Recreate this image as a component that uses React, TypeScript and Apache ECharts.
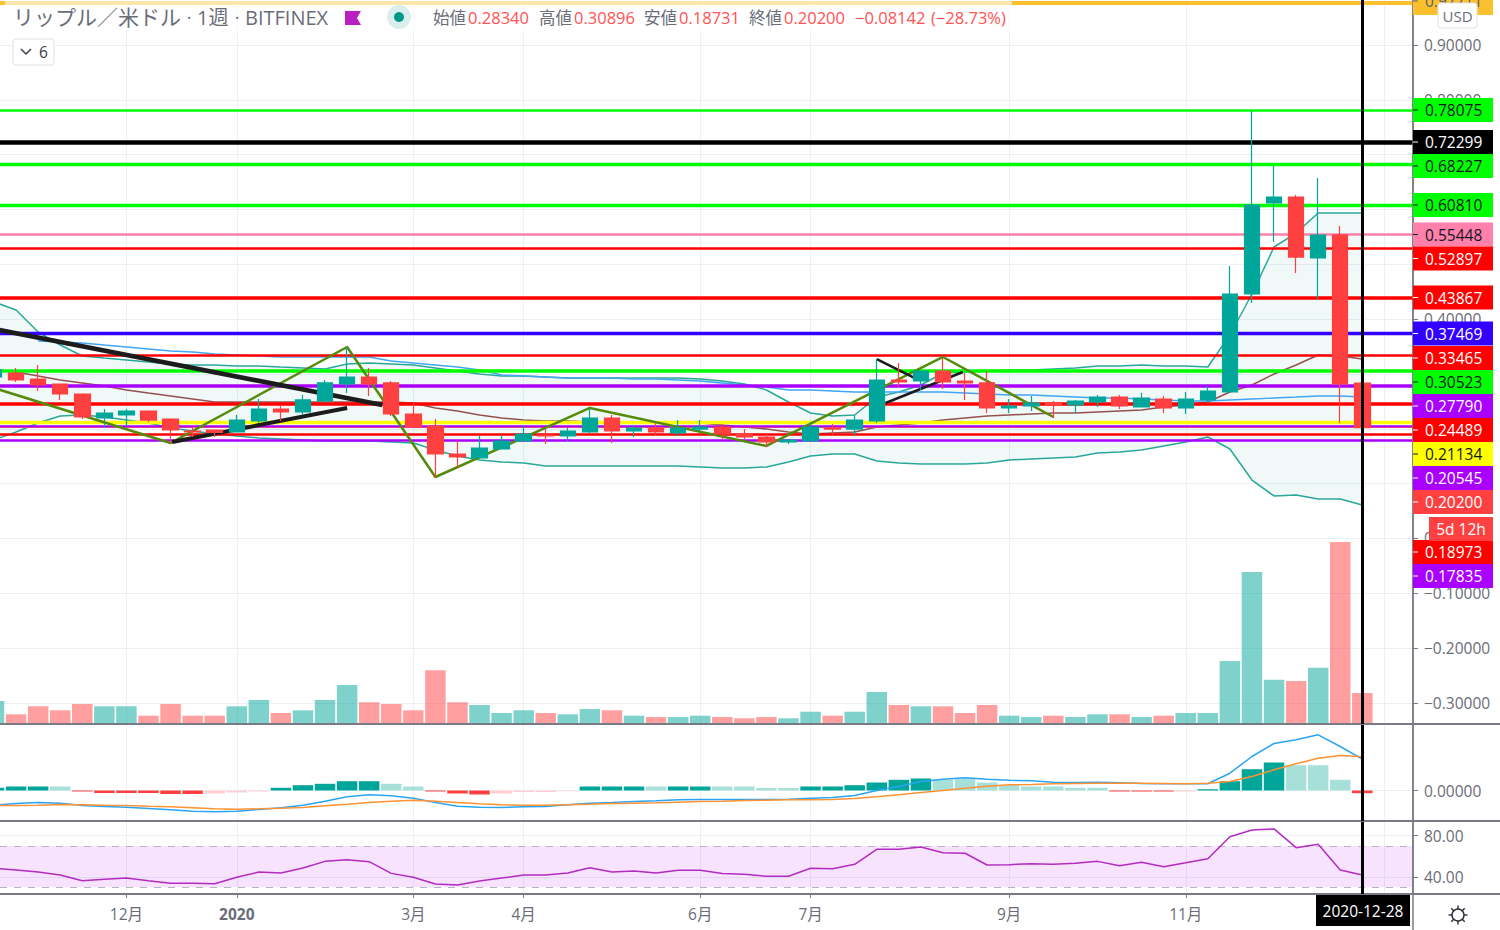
import React, { useEffect, useRef } from "react";
import * as echarts from "echarts";

const FONT = '"Open Sans", "Noto Sans CJK JP", sans-serif';

// Weekly candles, 2019-10-28 .. 2020-12-28 (index = week number)
const opens = [.2945,.3018,.2908,.2817,.2635,.2197,.2252,.2325,.2179,.1960,.1978,.1942,.2142,.2361,.2307,.2507,.2817,.2945,.2836,.2270,.2051,.1541,.1468,.1632,.1778,.1887,.1869,.1942,.2197,.1960,.2015,.1924,.1996,.2033,.1905,.1851,.1760,.1778,.2015,.1996,.2142,.2890,.2872,.3054,.2872,.2836,.2380,.2416,.2471,.2434,.2489,.2580,.2398,.2544,.2380,.2526,.2672,.4459,.6118,.6228,.5115,.5535,.2834];
const closes = [.3073,.2890,.2799,.2635,.2215,.2288,.2325,.2160,.1978,.1942,.1933,.2160,.2361,.2307,.2526,.2836,.2945,.2817,.2270,.2033,.1541,.1486,.1650,.1778,.1905,.1869,.1960,.2197,.1960,.2015,.1942,.2015,.2033,.1905,.1851,.1760,.1796,.2033,.1996,.2160,.2890,.2854,.3054,.2854,.2836,.2380,.2416,.2471,.2434,.2507,.2580,.2416,.2562,.2380,.2544,.2690,.4459,.6082,.6228,.5133,.5535,.2817,.2020];
const lows = [.2890,.2854,.2690,.2526,.2179,.2015,.2051,.2124,.1741,.1851,.1851,.1942,.2106,.2142,.2252,.2471,.2653,.2599,.2233,.2033,.1121,.1285,.1468,.1632,.1778,.1723,.1778,.1924,.1741,.1851,.1869,.1869,.1942,.1814,.1814,.1668,.1723,.1760,.1887,.1887,.2106,.2763,.2708,.2726,.2526,.2288,.2288,.2325,.2197,.2288,.2398,.2361,.2398,.2288,.2270,.2471,.2672,.4295,.5407,.4842,.4368,.2106,.18731];
const highs = [.3146,.3109,.3164,.2817,.2635,.2361,.2361,.2325,.2179,.2033,.1978,.2252,.2544,.2416,.2617,.2890,.3492,.3109,.2872,.2471,.2179,.1778,.1869,.1887,.2051,.1996,.2015,.2380,.2252,.2069,.2106,.2160,.2160,.2087,.1996,.1905,.1814,.2124,.2087,.2252,.3273,.3200,.3054,.3292,.3018,.3054,.2544,.2599,.2507,.2526,.2617,.2617,.2653,.2599,.2672,.2781,.4970,.7796,.6793,.6264,.6574,.5699,.30896];

const volumes = [23,9.7,17.7,13.7,20,17.7,17.7,8.3,20,8.3,8.3,17.7,24,11,13.7,24,39,21.7,20,13.7,53.7,21.7,19,11,13.7,11,9.7,15,13.7,8.3,7,7,8.3,7,5.7,7,5.7,12.3,8.3,12.3,32,19,17.7,17.7,11,19,8.3,7,8.3,7,9.7,9.7,7,8.3,11,11,63,152,44.3,43,56.3,182,31];

const bbUpper = [.4313,.4167,.3766,.3528,.3328,.3291,.3255,.3218,.3182,.3164,.3164,.3146,.3146,.3127,.3109,.3091,.3182,.3200,.3182,.3164,.3109,.3054,.3000,.2963,.2963,.2945,.2927,.2927,.2927,.2927,.2927,.2927,.2908,.2872,.2817,.2708,.2489,.2288,.2233,.2252,.2580,.2672,.2799,.3018,.3036,.3054,.3073,.3073,.3091,.3109,.3146,.3146,.3164,.3146,.3146,.3127,.3711,.4459,.5316,.5571,.5936,.5936,.5936];
const bbLower = [.1796,.1942,.2106,.2233,.2252,.2215,.2160,.2106,.2015,.1960,.1905,.1869,.1832,.1814,.1796,.1778,.1778,.1778,.1760,.1741,.1614,.1504,.1431,.1395,.1377,.1322,.1322,.1322,.1322,.1322,.1322,.1322,.1304,.1285,.1285,.1304,.1395,.1504,.1541,.1541,.1413,.1377,.1358,.1358,.1358,.1377,.1431,.1450,.1468,.1486,.1559,.1577,.1614,.1687,.1760,.1851,.1632,.1066,.0775,.0793,.0720,.0720,.0610];
const bbBasis = [.3073,.3036,.2963,.2890,.2836,.2781,.2708,.2653,.2599,.2544,.2489,.2489,.2489,.2489,.2489,.2489,.2489,.2489,.2489,.2471,.2380,.2325,.2252,.2197,.2160,.2142,.2142,.2124,.2124,.2106,.2106,.2106,.2106,.2069,.2033,.1996,.1942,.1905,.1924,.1942,.2033,.2069,.2106,.2160,.2197,.2233,.2252,.2270,.2288,.2288,.2307,.2325,.2343,.2398,.2434,.2489,.2672,.2799,.3000,.3164,.3346,.3328,.3273];
const blueAverage = [null,null,.3601,.3583,.3565,.3528,.3492,.3455,.3419,.3401,.3364,.3346,.3328,.3310,.3310,.3310,.3310,.3310,.3237,.3200,.3164,.3127,.3073,.2981,.2963,.2945,.2927,.2927,.2927,.2908,.2908,.2890,.2872,.2836,.2799,.2763,.2708,.2708,.2690,.2672,.2672,.2672,.2672,.2672,.2653,.2635,.2617,.2617,.2599,.2580,.2562,.2562,.2544,.2526,.2507,.2507,.2526,.2544,.2562,.2580,.2599,.2599,.2580];

const macdLine = [-14.7,-13,-12,-12.7,-15,-16,-16.7,-18,-19.3,-20.7,-21.3,-20.7,-19,-17.3,-14.7,-10.7,-6.3,-4.3,-5.3,-7.7,-12,-15.7,-16.7,-17,-16.3,-16,-14.3,-12.7,-12,-11,-10.3,-9.3,-9,-9,-9,-9,-8.7,-7.7,-7,-5,0,4,9,11.3,12.7,11.3,10.3,9.7,8.3,8,8.3,7.7,7,6.7,6.7,6.7,17.3,34,47,50.7,55.7,44,31.3];
const macdSignal = [-15,-15,-14.7,-14,-14.3,-14.7,-15,-15.7,-16.3,-17.3,-18.3,-18.7,-18.3,-17.7,-17,-15.3,-13.7,-12,-10.7,-9.7,-10.7,-12,-13.3,-14.3,-14.7,-14.7,-14.3,-13.7,-13,-12.7,-12.3,-11.7,-11,-10.7,-10,-9.7,-9.3,-9.3,-9,-8,-6.3,-4.3,-2,0,2.3,4.3,5.7,6,6.7,7,7.3,7.3,7.3,7,6.7,7.3,9,14,20.7,26.7,32.3,35,33.7];
const macdHist = [2.7,4,4,4,-1,-2.5,-2.5,-2.5,-3.5,-3.5,-3,-2,-1,2.7,5.3,6.7,9.3,9.3,6.7,4,-1,-3,-4,-3,-1.5,-1.5,-.7,4,4,4,4,4,4,4,4,2.5,2.5,4,4,5.3,8,10.7,12,10.7,12,8,5.3,4,4,2.7,2.7,-1,-1,-1,-1,1.3,9.3,21.3,28,25.3,25.3,10.7,-2.7];
const macdFaded = [3,10,11,12,18,19,23,24,25,26,30,33,34,35,36,43,44,45,46,47,48,49,50,54,59,60,61];

const rsi = [48.4,46.8,44.8,41.9,36.4,37.8,39,36.4,33.9,33.9,33.5,39.7,44.8,43.9,48.7,55.1,56.7,54.8,43.5,39.7,33.2,32.3,36.1,39,41.9,41.9,43.9,49,44.8,45.8,43.9,46.5,46.5,43.5,42.6,40.7,40.7,48.4,48,52.3,66.7,66.7,69,63.5,62.9,51.6,51.9,52.9,52.3,53.2,55.1,50.9,54.2,50,53.8,57.7,78.9,85.4,86.4,68.3,71.6,46.8,41.9];

const zigzagWeeks = [0,8,16,20,27,35,43,48];
const zigzagPrices = [.2744,.1741,.3492,.1121,.2380,.1687,.3310,.2215];

const trendLines = [
  { from: [0, .3820], to: [17.6, .2434], width: 4.7 },
  { from: [8.07, .1760], to: [16, .2380], width: 4 },
  { from: [40, .3273], to: [41.7, .2927], width: 2.5 },
  { from: [40.4, .2471], to: [43.9, .3036], width: 2.5 },
];

const levels = [0.97711,0.78075,0.72299,0.68227,0.60810,0.55448,0.52897,0.43867,0.37469,0.33465,0.30523,0.27790,0.24489,0.21134,0.20545,0.20200,0.18973,0.17835];
const levelColors = ["#fbc02d","#00ff00","#000000","#00ff00","#00ff00","#ff80ab","#ff0000","#ff0000","#3300ff","#ff0000","#00ff00","#aa00ff","#ff0000","#ffff00","#aa00ff","#ff4040","#ff0000","#aa00ff"];
const levelWidths = [4,2.5,4.6,3.3,3.3,2.5,2.5,3.6,3.3,2.5,3.6,3.6,3.6,3.3,2.5,1,2.5,2.5];
const levelInk = ["#5d606b","#131722","#ffffff","#131722","#131722","#131722","#ffffff","#ffffff","#ffffff","#ffffff","#131722","#ffffff","#ffffff","#131722","#ffffff","#ffffff","#ffffff","#ffffff"];
const tagCentres = [1,110,142,166,205,234.5,258.5,297.5,333.5,358,382,406,430,454,478,502,552,576];

const priceTicks = [-.3,-.2,-.1,0,.1,.2,.3,.4,.5,.6,.7,.8,.9];
const visiblePriceLabels = [-.3,-.2,-.1,0,.4,.8,.9];
const monthWeeks = [6,11,19,24,32,37,46,54,63];
const monthLabels = ["12月","2020","3月","4月","6月","7月","9月","11月",""];

const quoteParts = [
  { text: "始値", x: 433, red: false }, { text: "0.28340", x: 468, red: true },
  { text: "高値", x: 539, red: false }, { text: "0.30896", x: 574, red: true },
  { text: "安値", x: 644, red: false }, { text: "0.18731", x: 679, red: true },
  { text: "終値", x: 749, red: false }, { text: "0.20200", x: 784, red: true },
  { text: "−0.08142", x: 855, red: true }, { text: "(−28.73%)", x: 931, red: true },
];

const UP = "#00a69a";
const DOWN = "#ff4040";
const GRID = "#e9f1f6";
const INK = "#6a6d78";
const X_MIN = 0.2719;
const X_MAX = 64.297;

const indexed = (values: (number | null)[]) =>
  values.map((v, i) => [i, v]).filter((p) => p[1] !== null);

function xAxis(gridIndex: number) {
  return {
    type: "value", gridIndex, min: X_MIN, max: X_MAX,
    axisLine: { show: false },
    axisTick: { show: false, customValues: monthWeeks },
    axisLabel: { show: false, customValues: monthWeeks },
    splitLine: { show: true, lineStyle: { color: GRID, width: 1 } },
  };
}

function yAxis(gridIndex: number, min: number, max: number, ticks: number[], labels: number[], digits: number) {
  return {
    type: "value", gridIndex, min, max, position: "right",
    axisLine: { show: true, onZero: false, lineStyle: { color: "#787b86", width: 1.5 } },
    axisTick: { show: true, length: 5, lineStyle: { color: "#787b86" }, customValues: ticks },
    axisLabel: {
      show: true, customValues: labels, margin: 11, color: INK, fontSize: 15.5, fontFamily: FONT,
      formatter: (v: number) => (v < 0 ? "−" : "") + Math.abs(v).toFixed(digits),
    },
    splitLine: { show: true, lineStyle: { color: GRID, width: 1 } },
  };
}

function buildGraphics() {
  const g: any[] = [];
  const text = (t: string, x: number, y: number, fill: string, size: number, z = 20, align = "left") => ({
    type: "text", x, y, z, silent: true,
    style: { text: t, fill, font: `${size}px ${FONT}`, textAlign: align, textVerticalAlign: "middle" },
  });
  const hLine = (x1: number, x2: number, y: number, z = 8) => ({
    type: "line", z, silent: true, shape: { x1, y1: y, x2, y2: y }, style: { stroke: "#787b86", lineWidth: 2 },
  });
  // pane separators
  g.push(hLine(0, 1500, 724), hLine(0, 1500, 821), hLine(0, 1500, 894));
  g.push({ type: "line", z: 8, silent: true, shape: { x1: 1413, y1: 0, x2: 1413, y2: 930 }, style: { stroke: "#787b86", lineWidth: 1.5 } });
  // header veil
  g.push({ type: "rect", z: 15, silent: true, shape: { x: 5, y: 0, width: 1007, height: 33 }, style: { fill: "rgba(255,255,255,0.6)" } });
  g.push(text("リップル／米ドル", 13, 17, INK, 21));
  g.push(text("·", 189, 17, INK, 18, 20, "center"));
  g.push(text("1週", 197, 17, INK, 20));
  g.push(text("·", 237, 17, INK, 18, 20, "center"));
  g.push(text("BITFINEX", 245, 17, INK, 20));
  g.push({ type: "polygon", z: 20, silent: true, shape: { points: [[345, 11], [361, 11], [357, 18], [361, 25], [345, 25]] }, style: { fill: "#ba1fc4" } });
  g.push({ type: "circle", z: 20, silent: true, shape: { cx: 399, cy: 17, r: 12 }, style: { fill: "rgba(0,150,136,0.15)" } });
  g.push({ type: "circle", z: 21, silent: true, shape: { cx: 399, cy: 17, r: 5 }, style: { fill: "#009688" } });
  quoteParts.forEach((q) => g.push(text(q.text, q.x, 17, q.red ? "#ff5252" : INK, 16.5)));
  // collapse button
  g.push({ type: "rect", z: 20, silent: true, shape: { x: 13, y: 39, width: 41, height: 26, r: 3 }, style: { fill: "#fff", stroke: "#dfe2ea", lineWidth: 1 } });
  g.push({ type: "polyline", z: 21, silent: true, shape: { points: [[21, 49], [26, 54], [31, 49]] }, style: { fill: "none", stroke: "#3a3d46", lineWidth: 1.5 } });
  g.push(text("6", 39, 52, "#3a3d46", 15.5, 21));
  // price tags
  levels.forEach((lv, i) => {
    const cy = tagCentres[i];
    const h = i === 0 ? 28 : 24;
    g.push({ type: "rect", z: 20, silent: true, shape: { x: 1413, y: cy - h / 2, width: 80, height: h }, style: { fill: levelColors[i] } });
    g.push({ type: "line", z: 21, silent: true, shape: { x1: 1413, y1: cy, x2: 1418, y2: cy }, style: { stroke: levelInk[i], lineWidth: 1 } });
    g.push(text(lv.toFixed(5), 1425, cy, levelInk[i], 15.5, 21));
  });
  // countdown
  g.push({ type: "rect", z: 20, silent: true, shape: { x: 1429, y: 517, width: 64, height: 24 }, style: { fill: DOWN } });
  g.push(text("5d 12h", 1461, 529, "#ffffff", 15.5, 21, "center"));
  // currency button
  g.push({ type: "rect", z: 22, silent: true, shape: { x: 1438, y: 3, width: 39, height: 25, r: 3 }, style: { fill: "#fff", stroke: "#e0e3eb", lineWidth: 1 } });
  g.push(text("USD", 1457.5, 15.5, INK, 15, 23, "center"));
  // crosshair date
  g.push({ type: "rect", z: 20, silent: true, shape: { x: 1316, y: 895, width: 94, height: 31 }, style: { fill: "#000" } });
  g.push(text("2020-12-28", 1363, 911, "#ffffff", 15.5, 21, "center"));
  // settings icon
  g.push({ type: "circle", z: 20, silent: true, shape: { cx: 1458, cy: 915, r: 6 }, style: { fill: "none", stroke: "#2a2e39", lineWidth: 1.4 } });
  [0, 45, 90, 135, 180, 225, 270, 315].forEach((deg) => {
    const a = (deg * Math.PI) / 180;
    g.push({
      type: "line", z: 20, silent: true,
      shape: { x1: 1458 + 6 * Math.cos(a), y1: 915 + 6 * Math.sin(a), x2: 1458 + 9.5 * Math.cos(a), y2: 915 + 9.5 * Math.sin(a) },
      style: { stroke: "#2a2e39", lineWidth: 1.4 },
    });
  });
  return g;
}

function buildOption() {
  const thinLine = (name: string, data: any[], color: string, width: number, z: number, extra: any = {}) => ({
    type: "line", name, data, xAxisIndex: 0, yAxisIndex: 0, showSymbol: false, silent: true, z,
    lineStyle: { color, width }, itemStyle: { color }, ...extra,
  });
  const crosshair = (xAxisIndex: number, yAxisIndex: number) => ({
    type: "line", data: [], xAxisIndex, yAxisIndex, silent: true, z: 10,
    markLine: { z: 10, silent: true, symbol: "none", animation: false, label: { show: false }, precision: 4,
      data: [{ xAxis: 62 }], lineStyle: { color: "#000", width: 3, type: "solid" } },
  });
  const fadedSet = new Set(macdFaded);
  return {
    animation: false,
    backgroundColor: "#ffffff",
    textStyle: { fontFamily: FONT },
    grid: [
      { left: 0, right: 87, top: 0, height: 724 },
      { left: 0, right: 87, top: 725, height: 96 },
      { left: 0, right: 87, top: 822, height: 72 },
    ],
    xAxis: [
      xAxis(0),
      xAxis(1),
      {
        ...xAxis(2),
        axisTick: { show: true, length: 4, lineStyle: { color: "#787b86" }, customValues: monthWeeks },
        axisLabel: {
          show: true, customValues: monthWeeks, margin: 12, fontSize: 15.5, color: INK, fontFamily: FONT,
          formatter: (v: number) => {
            const label = monthLabels[monthWeeks.indexOf(v)] ?? "";
            return label === "2020" ? `{b|${label}}` : label;
          },
          rich: { b: { fontWeight: "bold", fontSize: 15.5, color: INK, fontFamily: FONT } },
        },
      },
    ],
    yAxis: [
      yAxis(0, -0.33837, 0.98207, priceTicks, visiblePriceLabels, 5),
      { type: "value", gridIndex: 0, min: 0, max: 724, show: false },
      yAxis(1, -30.5, 65.5, [0], [0], 5),
      yAxis(2, 23.6, 93.1, [40, 80], [40, 80], 2),
    ],
    graphic: { elements: buildGraphics() },
    series: [
      {
        type: "bar", name: "出来高", xAxisIndex: 0, yAxisIndex: 1, barWidth: 20.5, silent: true, z: 1,
        data: volumes.map((v, i) => ({
          value: [i, v],
          itemStyle: { color: closes[i] >= opens[i] ? "rgba(0,166,154,0.5)" : "rgba(255,64,64,0.5)" },
        })),
      },
      {
        type: "custom", name: "BB帯", xAxisIndex: 0, yAxisIndex: 0, silent: true, z: 1, clip: true,
        data: [[31, bbBasis[31]]],
        renderItem: (_p: any, api: any) => {
          const top = bbUpper.map((v, i) => api.coord([i, v]));
          const bottom = bbLower.map((v, i) => api.coord([i, v])).reverse();
          return { type: "polygon", shape: { points: top.concat(bottom) }, style: { fill: "rgba(0,150,136,0.055)" } };
        },
      },
      thinLine("BB下限", indexed(bbLower), "#2aa79b", 1.5, 2),
      thinLine("BB上限", indexed(bbUpper), "#2aa79b", 1.5, 2),
      thinLine("BB基準", indexed(bbBasis), "#94514f", 1.5, 2),
      thinLine("移動平均", indexed(blueAverage), "#42a5f5", 1.4, 2),
      {
        type: "line", data: [], xAxisIndex: 0, yAxisIndex: 0, silent: true,
        markLine: {
          z: 3, silent: true, symbol: "none", animation: false, label: { show: false }, precision: 6,
          data: levels.map((lv, i) => ({
            yAxis: lv,
            lineStyle: { color: levelColors[i], width: levelWidths[i], type: i === 15 ? "dotted" : "solid" },
          })),
        },
      },
      thinLine("ジグザグ", zigzagWeeks.map((k, i) => [k, zigzagPrices[i]]), "#558b0a", 2.5, 4),
      ...trendLines.map((t, i) => thinLine(`トレンド${i + 1}`, [t.from, t.to], "#1c1c1c", t.width, 4)),
      {
        type: "candlestick", name: "XRP/USD", xAxisIndex: 0, yAxisIndex: 0, barWidth: 16, silent: true, z: 6,
        data: opens.map((o, i) => [i, o, closes[i], lows[i], highs[i]]),
        itemStyle: { color: UP, color0: DOWN, borderColor: UP, borderColor0: DOWN, borderWidth: 1.2 },
      },
      crosshair(0, 0),
      {
        type: "bar", name: "ヒストグラム", xAxisIndex: 1, yAxisIndex: 2, barWidth: 20.5, silent: true, z: 2,
        data: macdHist.map((v, i) => ({
          value: [i, v],
          itemStyle: {
            color: v >= 0 ? (fadedSet.has(i) ? "#a7e0d9" : UP) : fadedSet.has(i) ? "#ffcdd2" : DOWN,
          },
        })),
      },
      {
        type: "line", name: "MACD", xAxisIndex: 1, yAxisIndex: 2, data: indexed(macdLine), showSymbol: false, silent: true, z: 3,
        lineStyle: { color: "#2aa5f6", width: 1.5 },
      },
      {
        type: "line", name: "シグナル", xAxisIndex: 1, yAxisIndex: 2, data: indexed(macdSignal), showSymbol: false, silent: true, z: 3,
        lineStyle: { color: "#ff9233", width: 1.5 },
      },
      crosshair(1, 2),
      {
        type: "line", name: "RSI", xAxisIndex: 2, yAxisIndex: 3, data: indexed(rsi), showSymbol: false, silent: true, z: 3,
        lineStyle: { color: "#b32bc0", width: 1.5 },
        markArea: {
          z: 1, silent: true, animation: false, itemStyle: { color: "rgba(188,22,238,0.12)" },
          data: [[{ yAxis: 70 }, { yAxis: 30 }]],
        },
        markLine: {
          z: 2, silent: true, symbol: "none", animation: false, label: { show: false },
          lineStyle: { color: "#b4b6bd", width: 1, type: [7, 7] },
          data: [{ yAxis: 70 }, { yAxis: 30 }],
        },
      },
      crosshair(2, 3),
    ],
  };
}

export default function App() {
  const ref = useRef<HTMLDivElement>(null);
  useEffect(() => {
    document.body.style.margin = "0";
    const chart = echarts.init(ref.current!, undefined, { renderer: "svg", width: 1500, height: 930 });
    chart.setOption(buildOption() as any);
    return () => chart.dispose();
  }, []);
  return <div ref={ref} style={{ position: "absolute", left: 0, top: 0, width: 1500, height: 930 }} />;
}
